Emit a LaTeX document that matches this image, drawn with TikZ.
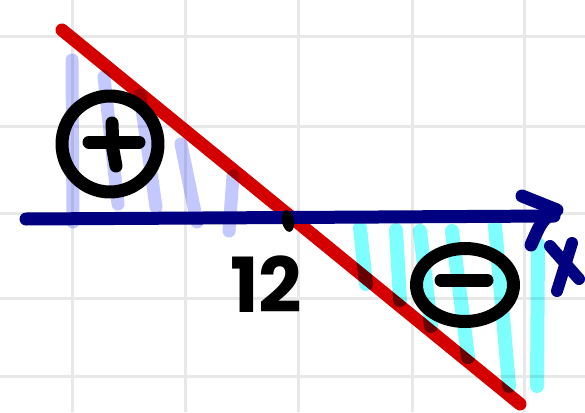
\documentclass[tikz,border=0pt]{standalone}
\usepackage{fontspec}
\newfontfamily\numfont{Poppins}
\definecolor{navyc}{RGB}{0,0,128}
\definecolor{redc}{RGB}{212,0,0}
\definecolor{lavc}{RGB}{195,200,255}
\definecolor{cyanc}{RGB}{125,255,255}
\definecolor{gridc}{RGB}{232,232,232}
\tikzset{
  gridline/.style={draw=gridc, line width=3pt},
  pen/.style={line width=13pt, line cap=round, line join=round},
  hatchL/.style={pen, draw=lavc, line width=13pt},
  hatchR/.style={pen, draw=cyanc, line width=14pt},
  ink/.style={pen, draw=black},
}
\begin{document}
\begin{tikzpicture}[x=1pt,y=-1pt]
\useasboundingbox (0,0) rectangle (585,412);
\fill[white] (0,0) rectangle (585,412);
% grid
\foreach \gx in {72,185,298,412,524} \draw[gridline] (\gx,0) -- (\gx,412);
\foreach \gy in {37,126,213,298,376} \draw[gridline] (0,\gy) -- (585,\gy);
% red line
\draw[pen, draw=redc] (62,30) -- (520,404);
% hatches
\begin{scope}[blend mode=multiply]
\draw[hatchL] (72,60) -- (73,222);
\draw[hatchL] (104,77) -- (112,150) -- (118,204);
\draw[hatchL] (140,95) -- (156,207);
\draw[hatchL] (181,144) -- (197,222);
\draw[hatchL] (233,176) -- (229,231);
\draw[hatchR] (360,228) -- (366,284);
\draw[hatchR] (396,230) -- (400,300);
\draw[hatchR] (420,231) -- (431,326);
\draw[hatchR] (452,231) -- (468,357);
\draw[hatchR] (495,226) -- (509,386);
\draw[hatchR] (538,244) -- (537,386);
\end{scope}
% axis
\draw[pen, draw=navyc] (26,219) -- (554,216);
\draw[pen, draw=navyc] (522,196) -- (557,210) .. controls (542,220) .. (531,245);
\draw[pen, draw=navyc, line width=12pt] (550,246) -- (579,279);
\draw[pen, draw=navyc, line width=12pt] (572,243) -- (557,291);
% signs
\draw[ink] (110,144) circle (48);
\draw[ink] (89,142) -- (139,142);
\draw[ink] (112,123) -- (113,150) -- (116,166);
\draw[ink] (465,285) ellipse (48.5 and 36.5);
\draw[ink] (441,280) -- (487,280);
% intersection dot
\fill[black, rotate around={10:(288,221)}] (288,221) ellipse (6 and 11);
% label
\node[font=\numfont\bfseries\fontsize{76}{76}\selectfont, inner sep=0pt] (lbl) at (266,284) {12};
\end{tikzpicture}
\end{document}
